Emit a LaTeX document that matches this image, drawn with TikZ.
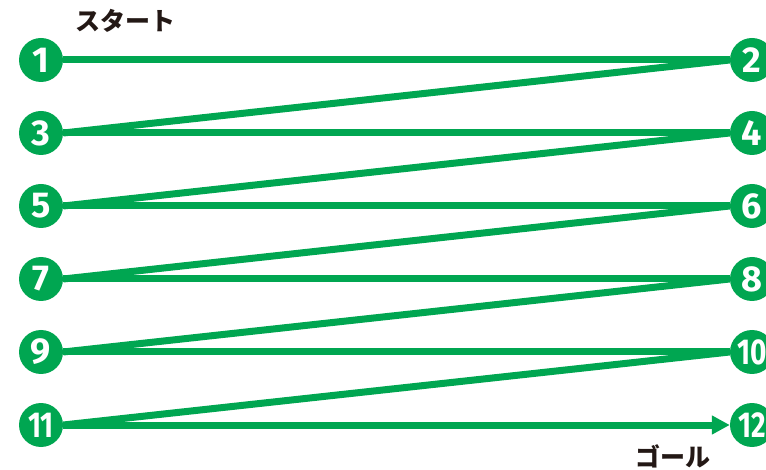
\documentclass[tikz,border=0pt]{standalone}
\usepackage{fontspec}
\setmainfont{Fira Sans}
\newfontfamily\jpfont{Noto Sans CJK JP}
\usetikzlibrary{arrows.meta,backgrounds}
\definecolor{mygreen}{RGB}{0,166,81}
\definecolor{myblack}{RGB}{35,24,21}
\begin{document}
\begin{tikzpicture}[x=1pt,y=-1pt,
  num/.style={circle,fill=mygreen,minimum size=44pt,inner sep=0pt,text=white,font=\fontsize{36}{36}\selectfont\bfseries},
  link/.style={draw=mygreen,line width=7pt},
  lbl/.style={text=myblack,font=\jpfont\fontsize{25}{25}\selectfont\bfseries}]
\useasboundingbox (0,0) rectangle (766,470);
\clip (0,0) rectangle (766,470);
\foreach \i/\y in {1/60,3/133,5/206,7/279,9/352}
  \node[num] (n\i) at (41,\y) {\i};
\node[num] (n11) at (41,425) {\scalebox{0.78}[1]{11}};
\foreach \i/\y in {2/60,4/133,6/206,8/279}
  \node[num] (n\i) at (752,\y) {\i};
\node[num] (n10) at (752,352) {\scalebox{0.78}[1]{10}};
\node[num] (n12) at (752,425) {\scalebox{0.78}[1]{12}};
\node[lbl] (start) at (125,21) {スタート};
\node[lbl] (goal) at (673,456) {ゴール};
\begin{scope}[on background layer]
\draw[link] (n1.east) -- (n2.west);
\draw[link] (n2.west) -- (n3.east);
\draw[link] (n3.east) -- (n4.west);
\draw[link] (n4.west) -- (n5.east);
\draw[link] (n5.east) -- (n6.west);
\draw[link] (n6.west) -- (n7.east);
\draw[link] (n7.east) -- (n8.west);
\draw[link] (n8.west) -- (n9.east);
\draw[link] (n9.east) -- (n10.west);
\draw[link] (n10.west) -- (n11.east);
\draw[link,-{Triangle[length=18pt,width=18pt]}] (n11.east) -- (n12.west);
\end{scope}
\end{tikzpicture}
\end{document}
